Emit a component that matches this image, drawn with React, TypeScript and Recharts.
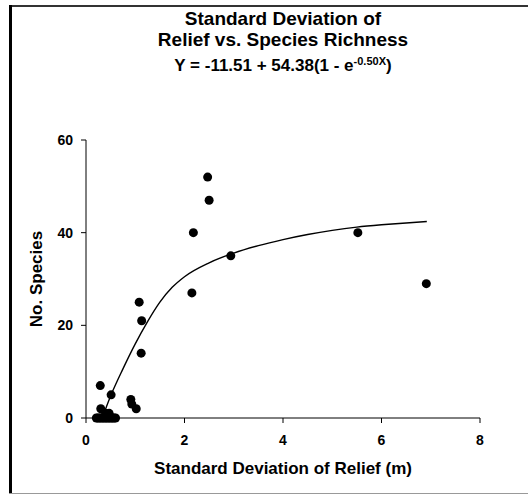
import { ComposedChart, Scatter, Line, XAxis, YAxis } from 'recharts';

// standard deviation of relief (m) and species count per site
const reliefSD = [
  0.21, 0.24, 0.27, 0.3, 0.33, 0.36, 0.39, 0.42, 0.45, 0.48, 0.51, 0.54, 0.57, 0.6,
  0.4, 0.47,
  0.29, 0.3, 0.51, 0.91, 0.93, 1.02, 1.12, 1.08, 1.13,
  2.15, 2.18, 2.47, 2.5, 2.94, 5.52, 6.91,
];
const speciesCount = [
  0, 0, 0, 0, 0, 0, 0, 0, 0, 0, 0, 0, 0, 0,
  1, 1,
  7, 2, 5, 4, 3, 2, 14, 25, 21,
  27, 40, 52, 47, 35, 40, 29,
];

// fitted curve, sampled along its length
const fitX = [0.33, 0.51, 0.75, 1.0, 1.25, 1.5, 1.75, 2.0, 2.5, 3.0, 3.5, 4.0, 4.5, 5.0, 5.5, 6.0, 6.5, 6.92];
const fitY = [0, 5, 10.6, 16, 20.8, 25, 28.2, 30.5, 33.5, 35.6, 37.2, 38.5, 39.6, 40.5, 41.2, 41.7, 42.1, 42.4];

const xTicks = [0, 2, 4, 6, 8];
const yTicks = [0, 20, 40, 60];

const points = reliefSD.map((x, i) => ({ x, y: speciesCount[i] }));
const fit = fitX.map((x, i) => ({ x, y: fitY[i] }));

const font = '"Liberation Sans", Arial, sans-serif';
const tickStyle = { fill: '#000', fontSize: 14, fontWeight: 'bold', fontFamily: font };

export default function App() {
  return (
    <div style={{ position: 'absolute', left: 0, top: 0, width: 528, height: 494, background: '#fff', overflow: 'hidden' }}>
      {/* frame */}
      <div style={{ position: 'absolute', left: 9, top: 5, width: 519, height: 2, background: '#333' }} />
      <div style={{ position: 'absolute', left: 9, top: 5, width: 3, height: 489, background: '#000' }} />
      <div style={{ position: 'absolute', left: 9, top: 493, width: 519, height: 1, background: '#999' }} />

      <div style={{ position: 'absolute', left: 0, top: 0, width: 566, textAlign: 'center', fontFamily: font, fontWeight: 'bold', color: '#000' }}>
        <div style={{ fontSize: 19, lineHeight: '21px', marginTop: 8 }}>Standard Deviation of</div>
        <div style={{ fontSize: 19, lineHeight: '21px' }}>Relief vs. Species Richness</div>
        <div style={{ fontSize: 17, lineHeight: '22px' }}>
          Y = -11.51 + 54.38(1 - e<sup style={{ fontSize: 11, verticalAlign: 6 }}>-0.50X</sup>)
        </div>
      </div>

      <ComposedChart
        width={528}
        height={494}
        margin={{ top: 140, right: 48, bottom: 36, left: 46 }}
        style={{ position: 'absolute', left: 0, top: 0 }}
      >
        <XAxis
          dataKey="x"
          type="number"
          domain={[0, 8]}
          ticks={xTicks}
          height={40}
          tickSize={5}
          tickMargin={12}
          stroke="#000"
          tick={tickStyle}
          allowDataOverflow
        />
        <YAxis
          dataKey="y"
          type="number"
          domain={[0, 60]}
          ticks={yTicks}
          width={40}
          tickSize={5}
          tickMargin={8}
          stroke="#000"
          tick={tickStyle}
        />
        <Line
          data={fit}
          dataKey="y"
          type="monotone"
          stroke="#000"
          strokeWidth={1.4}
          dot={false}
          activeDot={false}
          isAnimationActive={false}
        />
        <Scatter
          data={points}
          dataKey="y"
          fill="#000"
          shape={(p: any) => <circle cx={p.cx} cy={p.cy} r={4.5} fill="#000" />}
          isAnimationActive={false}
        />
      </ComposedChart>

      <div style={{ position: 'absolute', left: 86, width: 394, top: 459, textAlign: 'center', fontFamily: font, fontWeight: 'bold', fontSize: 17, color: '#000' }}>
        Standard Deviation of Relief (m)
      </div>
      <div
        style={{
          position: 'absolute', left: 37, top: 279, width: 200, marginLeft: -100, marginTop: -11,
          textAlign: 'center', fontFamily: font, fontWeight: 'bold', fontSize: 17, lineHeight: '22px',
          color: '#000', transform: 'rotate(-90deg)',
        }}
      >
        No. Species
      </div>
    </div>
  );
}
